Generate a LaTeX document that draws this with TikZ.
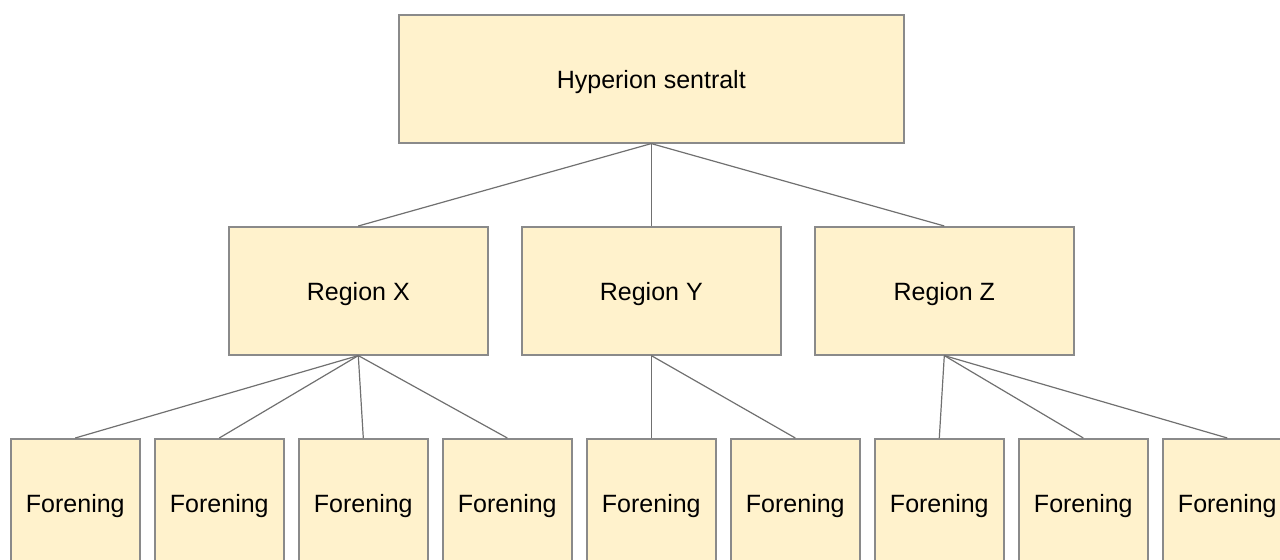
\documentclass[tikz,border=0pt]{standalone}
\usepackage{fontspec}
\setmainfont{Liberation Sans}
\definecolor{boxfill}{HTML}{FFF2CC}
\definecolor{boxline}{HTML}{8A8A8A}
\definecolor{conn}{HTML}{707070}
\begin{document}
\begin{tikzpicture}[x=0.5pt,y=-0.5pt,
  box/.style={draw=boxline,fill=boxfill,line width=0.8pt,minimum height=64pt,inner sep=0pt,text height=9.5pt,text depth=0pt,font=\fontsize{12.5}{15}\selectfont,anchor=north west},
  wide/.style={box,minimum width=252.5pt},
  mid/.style={box,minimum width=129.5pt},
  small/.style={box,minimum width=64.5pt},
  link/.style={draw=conn,line width=0.6pt}]
\useasboundingbox (0,0) rectangle (1280,560);
\clip (0,0) rectangle (1280,560);
\node[wide] (top) at (398,14) {Hyperion sentralt};
\node[mid] (rx) at (228,226) {Region X};
\node[mid] (ry) at (521,226) {Region Y};
\node[mid] (rz) at (814,226) {Region Z};
\node[small] (f1) at (10,438) {Forening};
\node[small] (f2) at (154,438) {Forening};
\node[small] (f3) at (298,438) {Forening};
\node[small] (f4) at (442,438) {Forening};
\node[small] (f5) at (586,438) {Forening};
\node[small] (f6) at (730,438) {Forening};
\node[small] (f7) at (874,438) {Forening};
\node[small] (f8) at (1018,438) {Forening};
\node[small] (f9) at (1162,438) {Forening};
\foreach \r in {rx,ry,rz} \draw[link] (top.south) -- (\r.north);
\foreach \f in {f1,f2,f3,f4} \draw[link] (rx.south) -- (\f.north);
\foreach \f in {f5,f6} \draw[link] (ry.south) -- (\f.north);
\foreach \f in {f7,f8,f9} \draw[link] (rz.south) -- (\f.north);
\end{tikzpicture}
\end{document}
